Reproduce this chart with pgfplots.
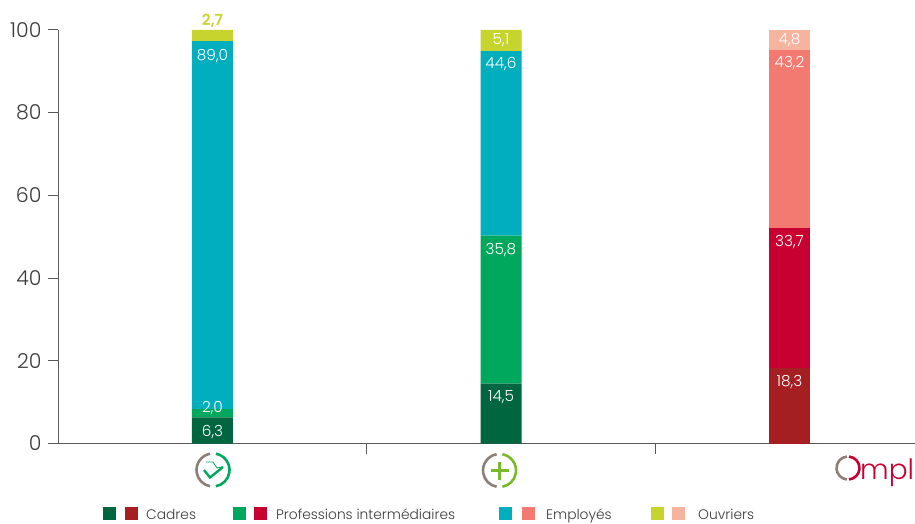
\documentclass[border=0pt]{standalone}
\usepackage{fontspec}
\setmainfont{Poppins}[UprightFont=* Light,BoldFont=* SemiBold]
\usepackage{pgfplots}
\pgfplotsset{compat=1.18}
\definecolor{cadreA}{HTML}{00663F}
\definecolor{cadreB}{HTML}{A51E22}
\definecolor{interA}{HTML}{00A85D}
\definecolor{interB}{HTML}{C80032}
\definecolor{emplA}{HTML}{00AEBD}
\definecolor{emplB}{HTML}{F37A70}
\definecolor{ouvrA}{HTML}{C8D42E}
\definecolor{ouvrB}{HTML}{F6B39E}
\definecolor{axisgrey}{HTML}{5A5A5A}
\definecolor{txt}{HTML}{3C3A3A}
\definecolor{logogrey}{HTML}{8C7F78}
\definecolor{plusgreen}{HTML}{7AB929}
% labels sit at the segment middle, so move each one up by hand
\newcommand{\lab}[2]{\raisebox{#1pt}[\height][\depth]{#2}}
\begin{document}
\begin{tikzpicture}[x=1pt,y=1pt]
\useasboundingbox (0,0) rectangle (915,523);
\begin{axis}[
    at={(58pt,79.5pt)}, anchor=south west,
    scale only axis,
    width=857pt, height=413.5pt,
    xmin=-0.5355, xmax=2.435,
    ymin=0, ymax=100,
    axis x line=bottom, axis y line=left,
    axis line style={axisgrey,line width=1pt,-},
    major tick style={axisgrey,line width=1pt},
    tick align=outside,
    major tick length=10pt,
    xtick={0.5355,1.5338},
    xticklabels={},
    ytick={0,20,...,100},
    /pgf/number format/assume math mode=true,
    ticklabel style={font=\fontsize{20.5}{20}\selectfont,text=txt},
    y tick label style={xshift=-3pt},
    ybar stacked,
    bar width=41pt,
    point meta=explicit symbolic,
    nodes near coords,
    every node near coord/.append style={
        font=\fontsize{15.3}{15}\selectfont,text=white,
        anchor=center,yshift=-1pt},
    clip=false,
]
% Cadres
\addplot[fill=cadreA,draw=none] coordinates {(0,6.3)[\lab{-0.5}{6,3}] (1,14.5)[\lab{17.5}{14,5}] (2,0)[]};
\addplot[fill=cadreB,draw=none] coordinates {(0,0)[] (1,0)[] (2,18.3)[\lab{24.7}{18,3}]};
% Professions intermediaires
\addplot[fill=interA,draw=none] coordinates {(0,2.0)[\lab{6}{2,0}] (1,35.8)[\lab{60.5}{35,8}] (2,0)[]};
\addplot[fill=interB,draw=none] coordinates {(0,0)[] (1,0)[] (2,33.7)[\lab{57}{33,7}]};
% Employes
\addplot[fill=emplA,draw=none] coordinates {(0,89.0)[\lab{170}{89,0}] (1,44.6)[\lab{80}{44,6}] (2,0)[]};
\addplot[fill=emplB,draw=none] coordinates {(0,0)[] (1,0)[] (2,43.2)[\lab{77}{43,2}]};
% Ouvriers
\addplot[fill=ouvrA,draw=none] coordinates {(0,2.7)[\lab{15.5}{\textcolor{ouvrA}{\textbf{2,7}}}] (1,5.1)[\lab{1}{5,1}] (2,0)[]};
\addplot[fill=ouvrB,draw=none] coordinates {(0,0)[] (1,0)[] (2,4.8)[\lab{1}{4,8}]};
\end{axis}
% category icons
\begin{scope}[line width=2.6pt]
  \draw[logogrey] (213,53) ++(100:16.5) arc[start angle=100,end angle=260,radius=16.5];
  \draw[interA] (213,53) ++(80:16.5) arc[start angle=80,end angle=-80,radius=16.5];
  \draw[interA,line width=2.4pt] (204,53) -- (210,45.5) -- (223,56);
  \draw[interA,line width=.8pt] (206,61) -- (213,61) -- (217,55) -- (222,56);
  \draw[logogrey] (499.5,52.5) ++(100:16.5) arc[start angle=100,end angle=260,radius=16.5];
  \draw[plusgreen] (499.5,52.5) ++(80:16.5) arc[start angle=80,end angle=-80,radius=16.5];
  \draw[plusgreen,line width=3.4pt] (490.5,52.5) -- (508.5,52.5) (499.5,43.5) -- (499.5,61.5);
  \draw[logogrey] (848,55) ++(95:11.5) arc[start angle=95,end angle=265,radius=11.5];
  \draw[interB] (848,55) ++(85:11.5) arc[start angle=85,end angle=-85,radius=11.5];
\end{scope}
\node[anchor=base west,inner sep=0pt,text=interB,font=\fontsize{28}{28}\selectfont] at (860,43.5) {mpl};
% legend
\foreach \x/\c in {103/cadreA,125/cadreB,233/interA,254/interB,499/emplA,522/emplB,651/ouvrA,672/ouvrB}
  \fill[\c] (\x,3) rectangle ++(13,13);
\foreach \x/\t in {146/Cadres,276/Professions intermédiaires,546/Employés,698/Ouvriers}
  \node[anchor=base west,inner sep=0pt,text=txt,font=\fontsize{13.8}{14}\selectfont] at (\x,4) {\t};
\end{tikzpicture}
\end{document}
